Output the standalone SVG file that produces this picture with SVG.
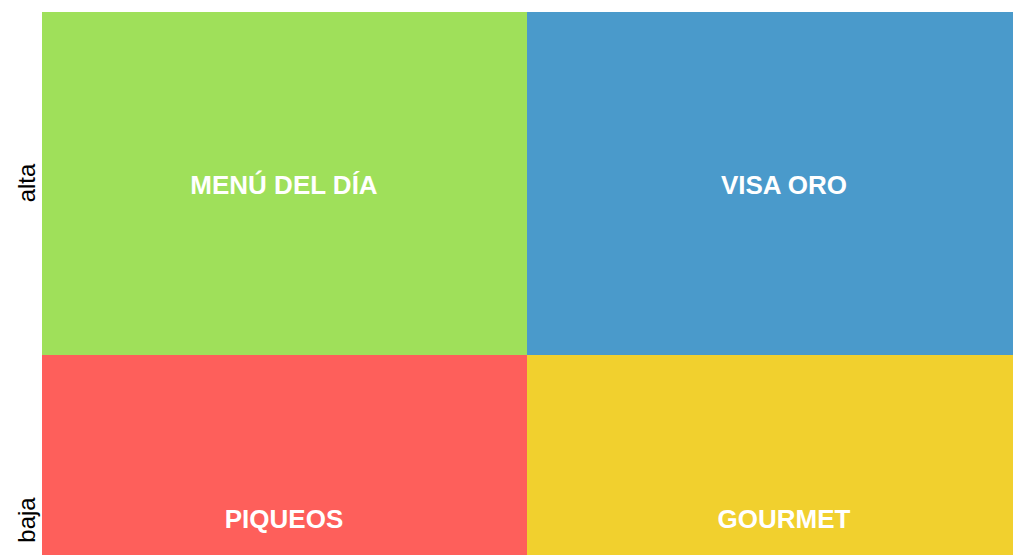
<svg xmlns="http://www.w3.org/2000/svg" width="1013" height="555" viewBox="0 0 1013 555">
<style>
.lbl{font-family:"Liberation Sans",Arial,sans-serif;font-weight:bold;font-size:26px;fill:#ffffff;text-anchor:middle}
.ax{font-family:"Liberation Sans",Arial,sans-serif;font-size:24px;fill:#000000;text-anchor:middle}
</style>
<rect width="1013" height="555" fill="#ffffff"/>
<g id="menu"><rect x="42" y="12" width="485" height="343" fill="#9fe05a"/><text class="lbl" x="284" y="194">MENÚ DEL DÍA</text></g>
<g id="visa"><rect x="527" y="12" width="486" height="343" fill="#4a9acb"/><text class="lbl" x="784" y="194">VISA ORO</text></g>
<g id="piqueos"><rect x="42" y="355" width="485" height="200" fill="#fe5f5b"/><text class="lbl" x="284" y="528">PIQUEOS</text></g>
<g id="gourmet"><rect x="527" y="355" width="486" height="200" fill="#f1d02e"/><text class="lbl" x="784" y="528">GOURMET</text></g>
<g id="axis">
<text class="ax" transform="translate(35,183) rotate(-90)">alta</text>
<text class="ax" transform="translate(35,520) rotate(-90)">baja</text>
</g>
</svg>
